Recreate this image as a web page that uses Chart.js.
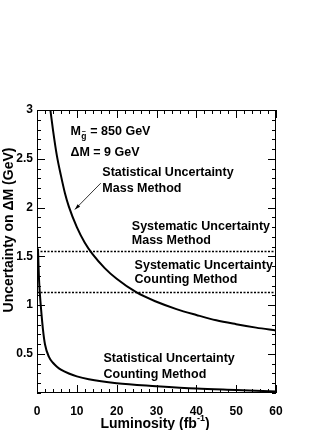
<!DOCTYPE html>
<html>
<head>
<meta charset="utf-8">
<script src="https://cdn.jsdelivr.net/npm/chart.js@4.4.0/dist/chart.umd.min.js"></script>
<style>
  body { margin: 0; background: #fff; }
  canvas { display: block; }
</style>
</head>
<body>
<canvas id="chart" width="332" height="430"></canvas>
<script>
// values: luminosity (fb^-1) vs uncertainty on dM (GeV)
const massLumi = [3.2, 4, 5, 6, 7, 8, 10, 12, 14, 17, 20, 25, 30, 35, 40, 45, 50, 55, 60];
const massStat = [3.05, 2.8, 2.53, 2.33, 2.15, 2.01, 1.8, 1.64, 1.52, 1.38, 1.27, 1.13, 1.035, 0.96, 0.9, 0.845, 0.805, 0.77, 0.74];
const countLumi = [0.25, 0.35, 0.5, 0.75, 1, 1.5, 2, 3, 4, 5, 6, 8, 10, 13, 20, 30, 40, 50, 60];
const countStat = [1.58, 1.45, 1.27, 1.1, 0.97, 0.75, 0.6, 0.47, 0.41, 0.37, 0.34, 0.3, 0.27, 0.24, 0.2, 0.17, 0.145, 0.13, 0.115];
const sysLumi = [0, 60];
const sysMass = [1.55, 1.55];
const sysCount = [1.13, 1.13];

const xTicks = [0, 10, 20, 30, 40, 50, 60];
const xTickLabels = ["0", "10", "20", "30", "40", "50", "60"];
const yTicks = [0.5, 1, 1.5, 2, 2.5, 3];
const yTickLabels = ["0.5", "1", "1.5", "2", "2.5", "3"];

const FONT = "'Liberation Sans', Arial, Helvetica, sans-serif";

// text boxes, placed in data coordinates
const notes = [
  { x: 16.4, y: 2.355, text: "Statistical Uncertainty" },
  { x: 16.4, y: 2.19, text: "Mass Method" },
  { x: 23.8, y: 1.81, text: "Systematic Uncertainty" },
  { x: 23.8, y: 1.66, text: "Mass Method" },
  { x: 24.5, y: 1.41, text: "Systematic Uncertainty" },
  { x: 24.5, y: 1.26, text: "Counting Method" },
  { x: 16.7, y: 0.45, text: "Statistical Uncertainty" },
  { x: 16.7, y: 0.29, text: "Counting Method" }
];
const arrow = { x0: 16.0, y0: 2.25, x1: 9.5, y1: 1.98 };

const pts = (xs, ys) => xs.map((x, i) => ({ x: x, y: ys[i] }));

function pick(vals, labels, v) {
  const i = vals.findIndex(t => Math.abs(t - v) < 1e-6);
  return i < 0 ? "" : labels[i];
}

// frame with ROOT-style inward ticks on all four sides
const frame = {
  id: "frame",
  afterDatasetsDraw(c) {
    const { ctx, chartArea: a, scales: { x, y } } = c;
    ctx.save();
    ctx.strokeStyle = "#000";
    ctx.lineWidth = 1;
    ctx.strokeRect(a.left + 0.5, a.top + 0.5, a.right - a.left - 1, a.bottom - a.top - 1);
    ctx.beginPath();
    x.ticks.forEach(t => {
      const px = Math.round(x.getPixelForValue(t.value)) + 0.5;
      const len = t.label ? 8 : 4;
      ctx.moveTo(px, a.bottom); ctx.lineTo(px, a.bottom - len);
      ctx.moveTo(px, a.top); ctx.lineTo(px, a.top + len);
    });
    y.ticks.forEach(t => {
      const py = Math.round(y.getPixelForValue(t.value)) + 0.5;
      const len = t.label ? 8 : 4;
      ctx.moveTo(a.left, py); ctx.lineTo(a.left + len, py);
      ctx.moveTo(a.right, py); ctx.lineTo(a.right - len, py);
    });
    ctx.stroke();
    ctx.restore();
  }
};

const labels = {
  id: "labels",
  afterDraw(c) {
    const { ctx, scales: { x, y } } = c;
    ctx.save();
    ctx.fillStyle = "#000";
    ctx.strokeStyle = "#000";
    ctx.textBaseline = "middle";
    ctx.textAlign = "left";

    ctx.font = "bold 12.5px " + FONT;
    notes.forEach(n => ctx.fillText(n.text, x.getPixelForValue(n.x), y.getPixelForValue(n.y)));

    // M_gluino = 850 GeV
    let px = x.getPixelForValue(8.4), py = y.getPixelForValue(2.78);
    ctx.fillText("M", px, py);
    px += ctx.measureText("M").width;
    ctx.font = "bold 8.5px " + FONT;
    ctx.fillText("g", px + 0.5, py + 5);
    ctx.font = "bold 7px " + FONT;
    ctx.fillText("~", px + 0.8, py + 0.5);
    ctx.font = "bold 12.5px " + FONT;
    ctx.fillText(" = 850 GeV", px + 6, py);
    ctx.fillText("\u0394M = 9 GeV", x.getPixelForValue(8.4), y.getPixelForValue(2.56));

    // arrow
    const ax0 = x.getPixelForValue(arrow.x0), ay0 = y.getPixelForValue(arrow.y0);
    const ax1 = x.getPixelForValue(arrow.x1), ay1 = y.getPixelForValue(arrow.y1);
    ctx.lineWidth = 0.8;
    ctx.beginPath(); ctx.moveTo(ax0, ay0); ctx.lineTo(ax1, ay1); ctx.stroke();
    const ang = Math.atan2(ay1 - ay0, ax1 - ax0);
    ctx.beginPath();
    ctx.moveTo(ax1, ay1);
    ctx.lineTo(ax1 - 6 * Math.cos(ang - 0.3), ay1 - 6 * Math.sin(ang - 0.3));
    ctx.lineTo(ax1 - 6 * Math.cos(ang + 0.3), ay1 - 6 * Math.sin(ang + 0.3));
    ctx.closePath(); ctx.fill();

    // x title with superscript
    ctx.font = "bold 14px " + FONT;
    const t1 = "Luminosity (fb", t2 = "-1", t3 = ")";
    const w1 = ctx.measureText(t1).width, w3 = ctx.measureText(t3).width;
    ctx.font = "bold 9px " + FONT;
    const w2 = ctx.measureText(t2).width;
    let tx = 155 - (w1 + w2 + w3) / 2;
    const ty = 424;
    ctx.font = "bold 14px " + FONT;
    ctx.fillText(t1, tx, ty);
    ctx.font = "bold 9px " + FONT;
    ctx.fillText(t2, tx + w1, ty - 5);
    ctx.font = "bold 14px " + FONT;
    ctx.fillText(t3, tx + w1 + w2, ty);

    // y title
    ctx.translate(9, 230);
    ctx.rotate(-Math.PI / 2);
    ctx.textAlign = "center";
    ctx.fillText("Uncertainty on \u0394M (GeV)", 0, 0);
    ctx.restore();
  }
};

const line = (data, extra) => Object.assign({
  data: data,
  showLine: true,
  borderColor: "#000",
  borderWidth: 2,
  pointRadius: 0,
  fill: false
}, extra);

new Chart(document.getElementById("chart"), {
  type: "scatter",
  data: {
    datasets: [
      line(pts(massLumi, massStat), { cubicInterpolationMode: "monotone" }),
      line(pts(countLumi, countStat), { cubicInterpolationMode: "monotone" }),
      line(pts(sysLumi, sysMass), { borderWidth: 1.5, borderDash: [2, 1.5] }),
      line(pts(sysLumi, sysCount), { borderWidth: 1.5, borderDash: [2, 1.5] })
    ]
  },
  options: {
    responsive: false,
    animation: false,
    devicePixelRatio: 1,
    layout: { padding: { top: 110, right: 56, left: 0, bottom: 0 } },
    plugins: { legend: { display: false }, tooltip: { enabled: false } },
    scales: {
      x: {
        type: "linear",
        min: 0,
        max: 60,
        afterFit: s => { s.height = 37; },
        grid: { display: false, drawTicks: false },
        border: { display: false },
        ticks: {
          stepSize: 2,
          autoSkip: false,
          maxRotation: 0,
          padding: 11,
          color: "#000",
          font: { family: FONT, size: 12, weight: "bold" },
          callback: v => pick(xTicks, xTickLabels, v)
        }
      },
      y: {
        type: "linear",
        min: 0.1,
        max: 3,
        afterFit: s => { s.width = 37; },
        grid: { display: false, drawTicks: false },
        border: { display: false },
        ticks: {
          stepSize: 0.1,
          autoSkip: false,
          padding: 4,
          color: "#000",
          font: { family: FONT, size: 12, weight: "bold" },
          callback: v => pick(yTicks, yTickLabels, v)
        }
      }
    }
  },
  plugins: [frame, labels]
});
</script>
</body>
</html>
